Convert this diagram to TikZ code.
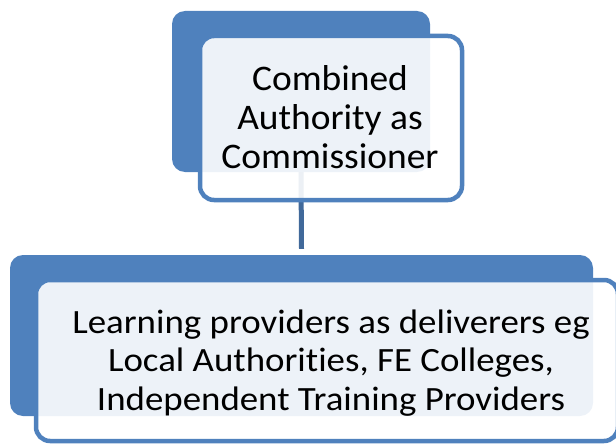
\documentclass[tikz,border=0pt]{standalone}
\usepackage{fontspec}
\setmainfont{Carlito}
\newfontfamily\topfont[FakeStretch=1.04,Ligatures=NoCommon]{Carlito}
\newfontfamily\botfont[FakeStretch=1.085,Ligatures=NoCommon]{Carlito}
\usetikzlibrary{calc}
\definecolor{acc}{HTML}{4F81BD}
\definecolor{conn}{HTML}{41699A}
\begin{document}
\begin{tikzpicture}[x=1pt,y=-1pt,
  backbox/.style={fill=acc, rounded corners=13pt, inner sep=0pt},
  frontbox/.style={draw=acc, line width=4.5pt, fill=white, fill opacity=0.9,
    rounded corners=14pt, inner sep=0pt},
  boxtext/.style={align=center, inner sep=0pt, anchor=base},
  link/.style={draw=conn, line width=5pt}]
\useasboundingbox (0,0) rectangle (616,444);
\node[backbox, minimum width=258pt, minimum height=161pt] (topback) at (301,91.5) {};
\node[backbox, minimum width=583pt, minimum height=161pt] (botback) at (301.5,335.5) {};
\draw[link] (topback.south) -- ($(botback.north)+(0,-6)$);
\node[frontbox, minimum width=262pt, minimum height=164pt] (topfront) at (331,118) {};
\node[frontbox, minimum width=582pt, minimum height=161pt] (botfront) at (327,360.5) {};
\node[boxtext, font=\topfont\fontsize{36}{39}\selectfont] (toptext) at (330,168)
  {Combined\\Authority as\\Commissioner};
\node[boxtext, font=\botfont\fontsize{34}{38.5}\selectfont] (bottext) at (331,410)
  {Learning providers as deliverers eg\\Local Authorities, FE Colleges,\\Independent Training Providers};
\end{tikzpicture}
\end{document}
